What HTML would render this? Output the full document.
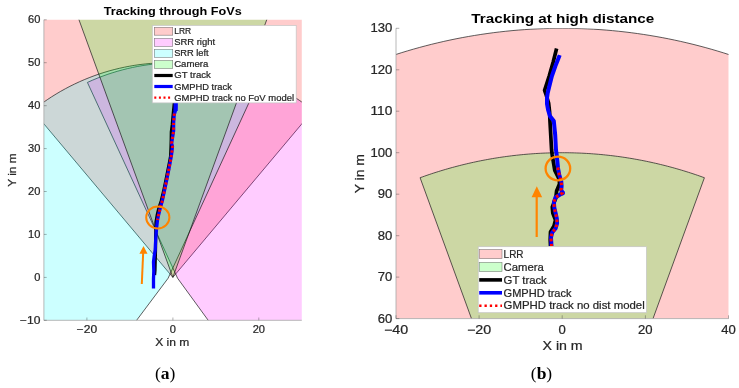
<!DOCTYPE html>
<html><head><meta charset="utf-8"><title>Tracking figure</title>
<style>html,body{margin:0;padding:0;background:#fff;width:739px;height:388px;overflow:hidden}svg{display:block;will-change:transform}</style>
</head><body>
<svg width="739" height="388" viewBox="0 0 739 388">
<clipPath id="cl"><rect x="43.9" y="19.8" width="257.9" height="300.5"/></clipPath>
<g clip-path="url(#cl)">
<polygon points="172.85,277.37 -186.33,-150.14 -181.32,-154.28 -176.27,-158.37 -171.17,-162.39 -166.02,-166.36 -160.83,-170.27 -155.59,-174.12 -150.31,-177.90 -144.99,-181.63 -139.62,-185.29 -134.21,-188.89 -128.75,-192.43 -123.26,-195.90 -117.73,-199.31 -112.15,-202.65 -106.54,-205.93 -100.89,-209.15 -95.21,-212.29 -89.48,-215.38 -83.72,-218.39 -77.93,-221.34 -72.10,-224.22 -66.24,-227.03 -60.35,-229.78 -54.43,-232.45 -48.47,-235.06 -42.49,-237.60 -36.47,-240.06 -30.43,-242.46 -24.36,-244.79 -18.27,-247.04 -12.14,-249.23 -6.00,-251.34 0.18,-253.39 6.37,-255.36 12.59,-257.26 18.83,-259.08 25.09,-260.83 31.37,-262.52 37.67,-264.12 43.99,-265.66 50.32,-267.12 56.67,-268.50 63.04,-269.82 69.42,-271.06 75.82,-272.22 82.23,-273.31 88.65,-274.33 95.08,-275.27 101.53,-276.14 107.98,-276.93 114.44,-277.64 120.91,-278.28 127.39,-278.85 133.87,-279.34 140.36,-279.76 146.85,-280.10 153.35,-280.36 159.85,-280.55 166.35,-280.66 172.85,-280.70 179.35,-280.66 185.85,-280.55 192.35,-280.36 198.85,-280.10 205.34,-279.76 211.83,-279.34 218.31,-278.85 224.79,-278.28 231.26,-277.64 237.72,-276.93 244.17,-276.14 250.62,-275.27 257.05,-274.33 263.47,-273.31 269.88,-272.22 276.28,-271.06 282.66,-269.82 289.03,-268.50 295.38,-267.12 301.71,-265.66 308.03,-264.12 314.33,-262.52 320.61,-260.83 326.87,-259.08 333.11,-257.26 339.33,-255.36 345.52,-253.39 351.70,-251.34 357.84,-249.23 363.97,-247.04 370.06,-244.79 376.13,-242.46 382.17,-240.06 388.19,-237.60 394.17,-235.06 400.13,-232.45 406.05,-229.78 411.94,-227.03 417.80,-224.22 423.63,-221.34 429.42,-218.39 435.18,-215.38 440.91,-212.29 446.59,-209.15 452.24,-205.93 457.85,-202.65 463.43,-199.31 468.96,-195.90 474.45,-192.43 479.91,-188.89 485.32,-185.29 490.69,-181.63 496.01,-177.90 501.29,-174.12 506.53,-170.27 511.72,-166.36 516.87,-162.39 521.97,-158.37 527.02,-154.28 532.03,-150.14" fill="#ff0000" fill-opacity="0.2" stroke="#1a1a1a" stroke-width="0.7" stroke-linejoin="round"/>
<polygon points="177.58,278.23 87.41,82.45 92.25,80.29 97.14,78.26 102.07,76.35 107.06,74.56 112.08,72.90 117.14,71.35 122.24,69.94 127.38,68.64 132.54,67.48 137.73,66.43 142.95,65.52 148.18,64.74 153.44,64.08 158.70,63.55 163.98,63.16 169.27,62.89 174.56,62.75 179.86,62.74 185.15,62.86 190.44,63.11 195.72,63.49 200.99,64.00 206.24,64.64 211.48,65.41 216.70,66.30 221.89,67.32 227.06,68.47 232.20,69.75 237.30,71.15 242.37,72.67 247.40,74.32 252.39,76.10 257.33,77.99 262.23,80.00 267.07,82.14 271.86,84.39 276.60,86.76 281.27,89.24 285.88,91.84 290.43,94.55 294.91,97.37 299.31,100.30 303.65,103.34 307.91,106.48 312.09,109.72 316.19,113.07 320.20,116.52 324.13,120.06 327.97,123.70 331.72,127.43 335.38,131.25 338.94,135.16 342.41,139.16 345.78,143.24 349.04,147.40 352.20,151.64 355.26,155.96 358.21,160.35 361.05,164.81 363.78,169.34 366.40,173.94 368.91,178.59 371.30,183.31 373.57,188.09 375.73,192.92 377.76,197.80 379.68,202.73 381.47,207.70 383.14,212.72 384.69,217.78 386.11,222.87 387.41,228.00 388.58,233.15 389.62,238.34 390.54,243.54 391.33,248.77 391.99,254.02 392.52,259.28 392.92,264.55 393.19,269.83 393.33,275.12 393.34,280.41 393.23,285.69 392.98,290.97 392.60,296.25 392.09,301.51 391.46,306.76 390.69,311.99 389.80,317.20 388.78,322.39 387.63,327.55 386.35,332.68 384.95,337.78 383.43,342.85 381.78,347.87 380.00,352.85 378.11,357.79 376.10,362.68 373.96,367.52 371.71,372.31 369.34,377.03 366.85,381.70 364.26,386.31 361.54,390.85 358.72,395.32 355.79,399.73 352.75,404.06 349.61,408.31 346.36,412.49 343.01,416.58 339.57,420.60 336.02,424.52 332.38,428.36 328.64,432.11 324.82,435.76 320.90,439.32 316.90,442.79 312.82,446.15 308.65,449.41 304.41,452.57" fill="#ff00ff" fill-opacity="0.2" stroke="#1a1a1a" stroke-width="0.7" stroke-linejoin="round"/>
<polygon points="168.12,278.23 38.87,450.79 34.69,447.59 30.59,444.28 26.57,440.88 22.63,437.38 18.79,433.78 15.03,430.09 11.36,426.31 7.79,422.45 4.31,418.49 0.93,414.46 -2.35,410.34 -5.53,406.14 -8.61,401.87 -11.58,397.52 -14.44,393.11 -17.20,388.62 -19.84,384.07 -22.37,379.45 -24.79,374.78 -27.09,370.04 -29.28,365.25 -31.35,360.41 -33.30,355.53 -35.13,350.59 -36.84,345.61 -38.42,340.59 -39.88,335.54 -41.22,330.45 -42.44,325.33 -43.53,320.18 -44.49,315.01 -45.33,309.81 -46.03,304.60 -46.61,299.37 -47.07,294.12 -47.39,288.87 -47.59,283.61 -47.65,278.35 -47.59,273.09 -47.40,267.83 -47.08,262.58 -46.64,257.33 -46.06,252.10 -45.36,246.89 -44.53,241.69 -43.57,236.51 -42.49,231.36 -41.28,226.24 -39.95,221.15 -38.49,216.09 -36.91,211.07 -35.21,206.09 -33.38,201.16 -31.44,196.27 -29.37,191.42 -27.19,186.63 -24.90,181.90 -22.48,177.22 -19.96,172.60 -17.32,168.05 -14.57,163.56 -11.71,159.14 -8.75,154.79 -5.67,150.51 -2.50,146.31 0.78,142.19 4.15,138.15 7.63,134.19 11.20,130.32 14.86,126.54 18.61,122.84 22.46,119.24 26.39,115.74 30.40,112.33 34.50,109.02 38.68,105.81 42.93,102.71 47.26,99.71 51.66,96.81 56.13,94.03 60.67,91.35 65.27,88.79 69.93,86.34 74.65,84.00 79.43,81.78 84.26,79.67 89.14,77.69 94.06,75.82 99.03,74.07 104.05,72.45 109.10,70.95 114.18,69.57 119.30,68.32 124.45,67.19 129.62,66.19 134.81,65.31 140.03,64.56 145.26,63.94 150.51,63.45 155.76,63.08 161.03,62.85 166.30,62.74 171.56,62.76 176.83,62.90 182.09,63.18 187.35,63.59 192.59,64.12 197.82,64.78 203.03,65.57 208.22,66.48 213.38,67.52 218.52,68.69 223.63,69.98 228.70,71.40 233.74,72.93 238.74,74.60 243.70,76.38 248.61,78.28 253.47,80.30 258.29,82.45" fill="#00ffff" fill-opacity="0.2" stroke="#1a1a1a" stroke-width="0.7" stroke-linejoin="round"/>
<polygon points="172.85,277.37 25.84,-126.03 28.19,-126.87 30.55,-127.71 32.91,-128.53 35.28,-129.33 37.65,-130.12 40.02,-130.90 42.40,-131.67 44.79,-132.42 47.18,-133.16 49.57,-133.88 51.97,-134.59 54.37,-135.28 56.78,-135.97 59.19,-136.63 61.60,-137.29 64.02,-137.93 66.44,-138.55 68.86,-139.16 71.29,-139.76 73.72,-140.34 76.16,-140.91 78.60,-141.47 81.04,-142.01 83.48,-142.53 85.93,-143.05 88.38,-143.54 90.83,-144.03 93.29,-144.50 95.75,-144.95 98.21,-145.39 100.67,-145.82 103.14,-146.23 105.61,-146.63 108.08,-147.01 110.55,-147.38 113.03,-147.74 115.51,-148.08 117.99,-148.40 120.47,-148.71 122.95,-149.01 125.43,-149.29 127.92,-149.56 130.41,-149.82 132.90,-150.06 135.39,-150.28 137.88,-150.49 140.37,-150.69 142.87,-150.87 145.36,-151.04 147.86,-151.19 150.35,-151.33 152.85,-151.45 155.35,-151.56 157.85,-151.65 160.35,-151.73 162.85,-151.80 165.35,-151.85 167.85,-151.89 170.35,-151.91 172.85,-151.91 175.35,-151.91 177.85,-151.89 180.35,-151.85 182.85,-151.80 185.35,-151.73 187.85,-151.65 190.35,-151.56 192.85,-151.45 195.35,-151.33 197.84,-151.19 200.34,-151.04 202.83,-150.87 205.33,-150.69 207.82,-150.49 210.31,-150.28 212.80,-150.06 215.29,-149.82 217.78,-149.56 220.27,-149.29 222.75,-149.01 225.23,-148.71 227.71,-148.40 230.19,-148.08 232.67,-147.74 235.15,-147.38 237.62,-147.01 240.09,-146.63 242.56,-146.23 245.03,-145.82 247.49,-145.39 249.95,-144.95 252.41,-144.50 254.87,-144.03 257.32,-143.54 259.77,-143.05 262.22,-142.53 264.66,-142.01 267.10,-141.47 269.54,-140.91 271.98,-140.34 274.41,-139.76 276.84,-139.16 279.26,-138.55 281.68,-137.93 284.10,-137.29 286.51,-136.63 288.92,-135.97 291.33,-135.28 293.73,-134.59 296.13,-133.88 298.52,-133.16 300.91,-132.42 303.30,-131.67 305.68,-130.90 308.05,-130.12 310.42,-129.33 312.79,-128.53 315.15,-127.71 317.51,-126.87 319.86,-126.03" fill="#00ff00" fill-opacity="0.2" stroke="#1a1a1a" stroke-width="0.7" stroke-linejoin="round"/>
<polyline points="174.3,103.0 173.1,115.0 172.2,125.0 171.3,132.0 171.2,139.0 171.0,146.0 170.6,156.0 169.5,162.0 167.5,172.0 165.5,182.0 163.4,192.0 161.2,201.0 158.9,208.0 157.2,215.0 156.0,222.0 155.8,230.0 155.6,238.0 155.6,246.0 155.4,255.0 155.2,262.0 155.0,270.0 154.6,275.0" fill="none" stroke="#000" stroke-width="3.2" stroke-linejoin="round"/>
<polyline points="175.8,100.0 175.6,110.0 174.2,114.7 173.6,123.2 173.6,130.9 172.4,138.6 171.6,143.3 172.5,146.4 171.6,154.1 170.6,160.0 168.7,170.0 166.7,180.0 164.6,190.0 162.5,200.0 160.8,206.0 159.5,211.0 158.3,216.0 157.5,220.0 156.6,228.0 156.0,235.0 155.4,245.0 155.2,250.0 154.2,256.0 153.5,262.0 153.8,271.0 153.5,279.0 153.5,288.5" fill="none" stroke="#0000ff" stroke-width="3.3" stroke-linejoin="round"/>
<polyline points="175.7,101.0 175.6,111.0" fill="none" stroke="#0000ff" stroke-width="4.2"/>
<polyline points="174.3,113.5 174.2,114.7 173.6,123.2 173.6,130.9 172.4,138.6 171.6,143.3 172.5,146.4 171.6,154.1 170.6,160.0 168.7,170.0 166.7,180.0 164.6,190.0 162.5,200.0 160.8,206.0 159.5,211.0 158.3,216.0 157.5,220.0" fill="none" stroke="#ff0000" stroke-width="2.9" stroke-dasharray="2.3 2.35"/>
<ellipse cx="157.8" cy="217.5" rx="11.6" ry="10.9" fill="none" stroke="#ff8400" stroke-width="2"/>
<line x1="141.8" y1="284" x2="143.2" y2="252" stroke="#ff8400" stroke-width="2"/>
<polygon points="143.5,245.9 139.4,253.8 147.5,253.8" fill="#ff8400"/>
</g>
<path d="M43.9,19.8 V320.3 H301.8" fill="none" stroke="#a6a6a6" stroke-width="0.8"/>
<line x1="43.9" y1="320.3" x2="46.7" y2="320.3" stroke="#262626" stroke-opacity="0.6" stroke-width="0.6"/>
<text x="40.40" y="323.84" font-family="Liberation Sans" font-size="10.19" font-weight="normal" text-anchor="end" fill="#262626" stroke="#262626" stroke-width="0.22" textLength="20.47" lengthAdjust="spacingAndGlyphs" >−10</text>
<line x1="43.9" y1="277.4" x2="46.7" y2="277.4" stroke="#262626" stroke-opacity="0.6" stroke-width="0.6"/>
<text x="40.40" y="280.91" font-family="Liberation Sans" font-size="10.19" font-weight="normal" text-anchor="end" fill="#262626" stroke="#262626" stroke-width="0.22" textLength="6.17" lengthAdjust="spacingAndGlyphs" >0</text>
<line x1="43.9" y1="234.4" x2="46.7" y2="234.4" stroke="#262626" stroke-opacity="0.6" stroke-width="0.6"/>
<text x="40.40" y="237.98" font-family="Liberation Sans" font-size="10.19" font-weight="normal" text-anchor="end" fill="#262626" stroke="#262626" stroke-width="0.22" textLength="12.34" lengthAdjust="spacingAndGlyphs" >10</text>
<line x1="43.9" y1="191.5" x2="46.7" y2="191.5" stroke="#262626" stroke-opacity="0.6" stroke-width="0.6"/>
<text x="40.40" y="195.05" font-family="Liberation Sans" font-size="10.19" font-weight="normal" text-anchor="end" fill="#262626" stroke="#262626" stroke-width="0.22" textLength="12.34" lengthAdjust="spacingAndGlyphs" >20</text>
<line x1="43.9" y1="148.6" x2="46.7" y2="148.6" stroke="#262626" stroke-opacity="0.6" stroke-width="0.6"/>
<text x="40.40" y="152.13" font-family="Liberation Sans" font-size="10.19" font-weight="normal" text-anchor="end" fill="#262626" stroke="#262626" stroke-width="0.22" textLength="12.34" lengthAdjust="spacingAndGlyphs" >30</text>
<line x1="43.9" y1="105.7" x2="46.7" y2="105.7" stroke="#262626" stroke-opacity="0.6" stroke-width="0.6"/>
<text x="40.40" y="109.20" font-family="Liberation Sans" font-size="10.19" font-weight="normal" text-anchor="end" fill="#262626" stroke="#262626" stroke-width="0.22" textLength="12.34" lengthAdjust="spacingAndGlyphs" >40</text>
<line x1="43.9" y1="62.7" x2="46.7" y2="62.7" stroke="#262626" stroke-opacity="0.6" stroke-width="0.6"/>
<text x="40.40" y="66.27" font-family="Liberation Sans" font-size="10.19" font-weight="normal" text-anchor="end" fill="#262626" stroke="#262626" stroke-width="0.22" textLength="12.34" lengthAdjust="spacingAndGlyphs" >50</text>
<line x1="43.9" y1="19.8" x2="46.7" y2="19.8" stroke="#262626" stroke-opacity="0.6" stroke-width="0.6"/>
<text x="40.40" y="23.34" font-family="Liberation Sans" font-size="10.19" font-weight="normal" text-anchor="end" fill="#262626" stroke="#262626" stroke-width="0.22" textLength="12.34" lengthAdjust="spacingAndGlyphs" >60</text>
<line x1="86.9" y1="320.3" x2="86.9" y2="317.5" stroke="#262626" stroke-opacity="0.6" stroke-width="0.6"/>
<text x="86.88" y="332.90" font-family="Liberation Sans" font-size="10.19" font-weight="normal" text-anchor="middle" fill="#262626" stroke="#262626" stroke-width="0.22" textLength="20.47" lengthAdjust="spacingAndGlyphs" >−20</text>
<line x1="172.9" y1="320.3" x2="172.9" y2="317.5" stroke="#262626" stroke-opacity="0.6" stroke-width="0.6"/>
<text x="172.85" y="332.90" font-family="Liberation Sans" font-size="10.19" font-weight="normal" text-anchor="middle" fill="#262626" stroke="#262626" stroke-width="0.22" textLength="6.17" lengthAdjust="spacingAndGlyphs" >0</text>
<line x1="258.8" y1="320.3" x2="258.8" y2="317.5" stroke="#262626" stroke-opacity="0.6" stroke-width="0.6"/>
<text x="258.82" y="332.90" font-family="Liberation Sans" font-size="10.19" font-weight="normal" text-anchor="middle" fill="#262626" stroke="#262626" stroke-width="0.22" textLength="12.34" lengthAdjust="spacingAndGlyphs" >20</text>
<text x="172.30" y="346.40" font-family="Liberation Sans" font-size="11.20" font-weight="normal" text-anchor="middle" fill="#262626" stroke="#262626" stroke-width="0.22" textLength="34.21" lengthAdjust="spacingAndGlyphs" >X in m</text>
<text x="0.00" y="0.00" font-family="Liberation Sans" font-size="11.20" font-weight="normal" text-anchor="middle" fill="#262626" stroke="#262626" stroke-width="0.22" textLength="33.42" lengthAdjust="spacingAndGlyphs" transform="translate(15.5,170.1) rotate(-90)">Y in m</text>
<text x="172.75" y="14.90" font-family="Liberation Sans" font-size="11.45" font-weight="bold" text-anchor="middle" fill="#000" textLength="138.14" lengthAdjust="spacingAndGlyphs" >Tracking through FoVs</text>
<rect x="152.3" y="25.4" width="143.9" height="77.5" fill="#fff" stroke="#c4c4c4" stroke-width="0.7"/>
<rect x="154.3" y="27.4" width="18.4" height="7.8" fill="#ff0000" fill-opacity="0.2" stroke="#1a1a1a" stroke-opacity="0.55" stroke-width="0.6"/>
<text x="174.20" y="34.25" font-family="Liberation Sans" font-size="9.13" font-weight="normal" text-anchor="start" fill="#262626" stroke="#262626" stroke-width="0.22" textLength="16.94" lengthAdjust="spacingAndGlyphs" >LRR</text>
<rect x="154.3" y="38.5" width="18.4" height="7.8" fill="#ff00ff" fill-opacity="0.2" stroke="#1a1a1a" stroke-opacity="0.55" stroke-width="0.6"/>
<text x="174.20" y="45.30" font-family="Liberation Sans" font-size="9.13" font-weight="normal" text-anchor="start" fill="#262626" stroke="#262626" stroke-width="0.22" textLength="40.82" lengthAdjust="spacingAndGlyphs" >SRR right</text>
<rect x="154.3" y="49.5" width="18.4" height="7.8" fill="#00ffff" fill-opacity="0.2" stroke="#1a1a1a" stroke-opacity="0.55" stroke-width="0.6"/>
<text x="174.20" y="56.35" font-family="Liberation Sans" font-size="9.13" font-weight="normal" text-anchor="start" fill="#262626" stroke="#262626" stroke-width="0.22" textLength="34.47" lengthAdjust="spacingAndGlyphs" >SRR left</text>
<rect x="154.3" y="60.6" width="18.4" height="7.8" fill="#00ff00" fill-opacity="0.2" stroke="#1a1a1a" stroke-opacity="0.55" stroke-width="0.6"/>
<text x="174.20" y="67.40" font-family="Liberation Sans" font-size="9.13" font-weight="normal" text-anchor="start" fill="#262626" stroke="#262626" stroke-width="0.22" textLength="34.14" lengthAdjust="spacingAndGlyphs" >Camera</text>
<line x1="154.3" y1="75.5" x2="172.7" y2="75.5" stroke="#000" stroke-width="3.2"/>
<text x="174.20" y="78.45" font-family="Liberation Sans" font-size="9.13" font-weight="normal" text-anchor="start" fill="#262626" stroke="#262626" stroke-width="0.22" textLength="36.65" lengthAdjust="spacingAndGlyphs" >GT track</text>
<line x1="154.3" y1="86.5" x2="172.7" y2="86.5" stroke="#0000ff" stroke-width="3.2"/>
<text x="174.20" y="89.50" font-family="Liberation Sans" font-size="9.13" font-weight="normal" text-anchor="start" fill="#262626" stroke="#262626" stroke-width="0.22" textLength="57.64" lengthAdjust="spacingAndGlyphs" >GMPHD track</text>
<line x1="154.3" y1="97.6" x2="172.7" y2="97.6" stroke="#ff0000" stroke-width="2.2" stroke-dasharray="2 2.6"/>
<text x="174.20" y="100.55" font-family="Liberation Sans" font-size="9.13" font-weight="normal" text-anchor="start" fill="#262626" stroke="#262626" stroke-width="0.22" textLength="119.84" lengthAdjust="spacingAndGlyphs" >GMPHD track no FoV model</text>
<clipPath id="cr"><rect x="396.0" y="28.3" width="332.5" height="290.3"/></clipPath>
<g clip-path="url(#cr)">
<polygon points="562.25,567.43 214.94,154.43 219.78,150.43 224.67,146.48 229.60,142.59 234.58,138.76 239.60,134.98 244.66,131.26 249.77,127.61 254.92,124.01 260.11,120.47 265.34,116.99 270.62,113.58 275.93,110.22 281.28,106.93 286.67,103.70 292.09,100.53 297.56,97.42 303.06,94.38 308.59,91.41 314.16,88.49 319.76,85.65 325.39,82.86 331.06,80.15 336.76,77.49 342.49,74.91 348.24,72.39 354.03,69.94 359.85,67.56 365.69,65.24 371.56,62.99 377.45,60.81 383.37,58.70 389.32,56.66 395.28,54.69 401.27,52.78 407.29,50.95 413.32,49.18 419.37,47.49 425.45,45.87 431.54,44.31 437.65,42.83 443.77,41.42 449.91,40.08 456.07,38.81 462.24,37.62 468.43,36.49 474.62,35.44 480.83,34.46 487.05,33.55 493.28,32.71 499.52,31.95 505.77,31.25 512.03,30.63 518.29,30.09 524.56,29.61 530.83,29.21 537.11,28.88 543.39,28.63 549.68,28.45 555.96,28.34 562.25,28.30 568.54,28.34 574.82,28.45 581.11,28.63 587.39,28.88 593.67,29.21 599.94,29.61 606.21,30.09 612.47,30.63 618.73,31.25 624.98,31.95 631.22,32.71 637.45,33.55 643.67,34.46 649.88,35.44 656.07,36.49 662.26,37.62 668.43,38.81 674.59,40.08 680.73,41.42 686.85,42.83 692.96,44.31 699.05,45.87 705.13,47.49 711.18,49.18 717.21,50.95 723.23,52.78 729.22,54.69 735.18,56.66 741.13,58.70 747.05,60.81 752.94,62.99 758.81,65.24 764.65,67.56 770.47,69.94 776.26,72.39 782.01,74.91 787.74,77.49 793.44,80.15 799.11,82.86 804.74,85.65 810.34,88.49 815.91,91.41 821.44,94.38 826.94,97.42 832.41,100.53 837.83,103.70 843.22,106.93 848.57,110.22 853.88,113.58 859.16,116.99 864.39,120.47 869.58,124.01 874.73,127.61 879.84,131.26 884.90,134.98 889.92,138.76 894.90,142.59 899.83,146.48 904.72,150.43 909.56,154.43" fill="#ff0000" fill-opacity="0.2" stroke="#1a1a1a" stroke-width="0.7" stroke-linejoin="round"/>
<polygon points="566.82,568.26 479.64,379.12 484.31,377.04 489.04,375.08 493.81,373.23 498.63,371.50 503.49,369.89 508.38,368.40 513.32,367.03 518.28,365.78 523.27,364.66 528.29,363.65 533.33,362.77 538.40,362.01 543.48,361.38 548.57,360.87 553.68,360.49 558.79,360.23 563.91,360.09 569.02,360.08 574.14,360.20 579.26,360.44 584.36,360.81 589.46,361.30 594.54,361.92 599.60,362.66 604.65,363.52 609.67,364.51 614.67,365.62 619.64,366.85 624.57,368.21 629.48,369.68 634.34,371.27 639.16,372.99 643.94,374.82 648.67,376.76 653.36,378.82 657.99,381.00 662.57,383.29 667.09,385.69 671.55,388.20 675.94,390.81 680.27,393.54 684.53,396.37 688.72,399.30 692.84,402.34 696.88,405.47 700.85,408.70 704.73,412.03 708.53,415.46 712.24,418.97 715.87,422.58 719.41,426.27 722.85,430.05 726.20,433.91 729.46,437.85 732.62,441.87 735.68,445.97 738.63,450.14 741.48,454.38 744.23,458.69 746.87,463.07 749.40,467.50 751.83,472.00 754.14,476.56 756.34,481.18 758.42,485.84 760.39,490.56 762.24,495.32 763.98,500.12 765.59,504.97 767.09,509.86 768.46,514.78 769.72,519.73 770.85,524.71 771.86,529.72 772.75,534.75 773.51,539.80 774.14,544.87 774.66,549.95 775.04,555.04 775.31,560.15 775.44,565.25 775.45,570.36 775.34,575.47 775.10,580.57 774.74,585.66 774.24,590.75 773.63,595.82 772.89,600.87 772.03,605.91 771.04,610.92 769.93,615.91 768.69,620.86 767.34,625.79 765.87,630.68 764.27,635.54 762.56,640.35 760.73,645.12 758.78,649.84 756.71,654.52 754.54,659.14 752.24,663.71 749.84,668.22 747.33,672.67 744.71,677.06 741.98,681.38 739.14,685.63 736.21,689.81 733.17,693.92 730.03,697.96 726.79,701.92 723.45,705.79 720.03,709.58 716.50,713.29 712.89,716.91 709.19,720.44 705.41,723.88 701.54,727.23 697.59,730.48 693.56,733.63 689.46,736.68" fill="#ff00ff" fill-opacity="0.2" stroke="#1a1a1a" stroke-width="0.7" stroke-linejoin="round"/>
<polygon points="557.68,568.26 432.70,734.96 428.65,731.86 424.69,728.67 420.80,725.38 417.00,722.00 413.28,718.53 409.64,714.97 406.10,711.32 402.64,707.58 399.28,703.76 396.01,699.86 392.84,695.88 389.76,691.83 386.79,687.70 383.92,683.50 381.15,679.23 378.49,674.90 375.93,670.50 373.48,666.04 371.14,661.53 368.92,656.95 366.80,652.33 364.80,647.65 362.92,642.93 361.15,638.16 359.50,633.35 357.96,628.51 356.55,623.62 355.25,618.71 354.08,613.76 353.03,608.78 352.09,603.79 351.29,598.77 350.60,593.73 350.04,588.68 349.60,583.61 349.29,578.54 349.10,573.46 349.03,568.37 349.09,563.29 349.28,558.21 349.59,553.13 350.02,548.07 350.57,543.02 351.25,537.98 352.06,532.96 352.98,527.96 354.03,522.98 355.20,518.03 356.49,513.12 357.90,508.23 359.42,503.38 361.07,498.57 362.83,493.80 364.71,489.08 366.71,484.40 368.82,479.77 371.04,475.19 373.37,470.68 375.82,466.21 378.37,461.81 381.03,457.48 383.79,453.21 386.66,449.00 389.63,444.87 392.70,440.81 395.86,436.83 399.13,432.93 402.49,429.11 405.94,425.37 409.48,421.71 413.11,418.15 416.83,414.67 420.63,411.28 424.51,407.99 428.47,404.79 432.51,401.69 436.62,398.69 440.81,395.80 445.07,393.00 449.39,390.31 453.77,387.72 458.22,385.25 462.73,382.88 467.30,380.62 471.92,378.47 476.58,376.44 481.30,374.52 486.07,372.72 490.87,371.03 495.72,369.46 500.60,368.01 505.52,366.68 510.47,365.47 515.45,364.38 520.45,363.41 525.47,362.57 530.51,361.84 535.57,361.24 540.65,360.77 545.73,360.41 550.82,360.18 555.91,360.08 561.01,360.10 566.10,360.24 571.19,360.51 576.27,360.90 581.34,361.41 586.39,362.05 591.43,362.81 596.45,363.70 601.44,364.70 606.41,365.83 611.35,367.08 616.25,368.44 621.13,369.93 625.96,371.54 630.76,373.26 635.51,375.10 640.21,377.05 644.86,379.12" fill="#00ffff" fill-opacity="0.2" stroke="#1a1a1a" stroke-width="0.7" stroke-linejoin="round"/>
<polygon points="562.25,567.43 420.10,177.72 422.37,176.91 424.65,176.10 426.94,175.31 429.22,174.53 431.52,173.76 433.81,173.01 436.12,172.27 438.42,171.55 440.73,170.84 443.05,170.14 445.37,169.45 447.69,168.78 450.01,168.12 452.34,167.48 454.68,166.85 457.02,166.23 459.36,165.62 461.70,165.03 464.05,164.46 466.40,163.89 468.75,163.34 471.11,162.81 473.47,162.29 475.84,161.78 478.20,161.28 480.57,160.80 482.95,160.33 485.32,159.88 487.70,159.44 490.08,159.01 492.46,158.60 494.84,158.20 497.23,157.82 499.62,157.45 502.01,157.09 504.41,156.75 506.80,156.42 509.20,156.11 511.60,155.81 514.00,155.52 516.40,155.25 518.81,154.99 521.21,154.74 523.62,154.51 526.03,154.29 528.44,154.09 530.85,153.90 533.26,153.72 535.67,153.56 538.08,153.42 540.50,153.28 542.91,153.16 545.33,153.06 547.74,152.97 550.16,152.89 552.58,152.83 555.00,152.78 557.41,152.74 559.83,152.72 562.25,152.71 564.67,152.72 567.09,152.74 569.50,152.78 571.92,152.83 574.34,152.89 576.76,152.97 579.17,153.06 581.59,153.16 584.00,153.28 586.42,153.42 588.83,153.56 591.24,153.72 593.65,153.90 596.06,154.09 598.47,154.29 600.88,154.51 603.29,154.74 605.69,154.99 608.10,155.25 610.50,155.52 612.90,155.81 615.30,156.11 617.70,156.42 620.09,156.75 622.49,157.09 624.88,157.45 627.27,157.82 629.66,158.20 632.04,158.60 634.42,159.01 636.80,159.44 639.18,159.88 641.55,160.33 643.93,160.80 646.30,161.28 648.66,161.78 651.03,162.29 653.39,162.81 655.75,163.34 658.10,163.89 660.45,164.46 662.80,165.03 665.14,165.62 667.48,166.23 669.82,166.85 672.16,167.48 674.49,168.12 676.81,168.78 679.13,169.45 681.45,170.14 683.77,170.84 686.08,171.55 688.38,172.27 690.69,173.01 692.98,173.76 695.28,174.53 697.56,175.31 699.85,176.10 702.13,176.91 704.40,177.72" fill="#00ff00" fill-opacity="0.2" stroke="#1a1a1a" stroke-width="0.7" stroke-linejoin="round"/>
<polyline points="556.6,48.5 553.2,62.0 549.2,76.0 546.3,85.0 544.6,90.3 546.2,95.0 548.6,103.0 549.6,112.0 549.9,120.0 551.6,150.0 552.2,155.0 554.8,170.4 559.3,179.5 559.5,184.0 556.6,191.0 555.8,198.0 552.3,207.0 552.8,213.0 555.5,220.0 554.0,226.0 550.5,232.0 550.2,240.0 550.5,246.0" fill="none" stroke="#000" stroke-width="3.7" stroke-linejoin="round"/>
<polyline points="559.7,55.1 557.6,60.5 555.4,66.0 551.9,76.0 549.4,86.0 547.7,93.0 547.0,98.0 547.0,104.0 548.1,110.0 549.9,116.0 553.8,121.0 555.2,135.0 556.0,150.0 556.7,155.0 558.0,168.0 559.3,175.0 561.2,181.0 561.6,186.0 561.2,190.0 562.5,193.0 558.5,195.5 555.4,197.5 553.9,202.1 554.3,207.7 555.7,213.4 556.8,218.4 557.1,223.3 555.7,228.3 552.2,232.5 551.0,237.5 551.5,246.0" fill="none" stroke="#0000ff" stroke-width="4.0" stroke-linejoin="round"/>
<circle cx="562.3" cy="192.8" r="2.6" fill="#0000ff"/>
<polyline points="557.8,167.5 559.3,175.0 561.2,181.0 561.6,186.0 561.2,190.0 562.5,193.0 558.5,195.5 555.4,197.5 553.9,202.1 554.3,207.7 555.7,213.4 556.8,218.4 557.1,223.3 555.7,228.3 552.2,232.5 551.0,237.5 551.5,246.0" fill="none" stroke="#ff0000" stroke-width="3.0" stroke-dasharray="2.6 2.6"/>
<ellipse cx="557.9" cy="168.5" rx="12.3" ry="11.8" fill="none" stroke="#ff8400" stroke-width="2.3"/>
<line x1="536.7" y1="237" x2="536.7" y2="195" stroke="#ff8400" stroke-width="2.2"/>
<polygon points="536.8,186.3 531.6,197.2 542.2,197.2" fill="#ff8400"/>
</g>
<path d="M396.0,28.3 V318.6 H728.5" fill="none" stroke="#a6a6a6" stroke-width="0.8"/>
<line x1="396.0" y1="318.6" x2="399.3" y2="318.6" stroke="#262626" stroke-opacity="0.6" stroke-width="0.6"/>
<text x="392.30" y="322.77" font-family="Liberation Sans" font-size="12.02" font-weight="normal" text-anchor="end" fill="#262626" stroke="#262626" stroke-width="0.22" textLength="14.57" lengthAdjust="spacingAndGlyphs" >60</text>
<line x1="396.0" y1="277.1" x2="399.3" y2="277.1" stroke="#262626" stroke-opacity="0.6" stroke-width="0.6"/>
<text x="392.30" y="281.30" font-family="Liberation Sans" font-size="12.02" font-weight="normal" text-anchor="end" fill="#262626" stroke="#262626" stroke-width="0.22" textLength="14.57" lengthAdjust="spacingAndGlyphs" >70</text>
<line x1="396.0" y1="235.7" x2="399.3" y2="235.7" stroke="#262626" stroke-opacity="0.6" stroke-width="0.6"/>
<text x="392.30" y="239.83" font-family="Liberation Sans" font-size="12.02" font-weight="normal" text-anchor="end" fill="#262626" stroke="#262626" stroke-width="0.22" textLength="14.57" lengthAdjust="spacingAndGlyphs" >80</text>
<line x1="396.0" y1="194.2" x2="399.3" y2="194.2" stroke="#262626" stroke-opacity="0.6" stroke-width="0.6"/>
<text x="392.30" y="198.36" font-family="Liberation Sans" font-size="12.02" font-weight="normal" text-anchor="end" fill="#262626" stroke="#262626" stroke-width="0.22" textLength="14.57" lengthAdjust="spacingAndGlyphs" >90</text>
<line x1="396.0" y1="152.7" x2="399.3" y2="152.7" stroke="#262626" stroke-opacity="0.6" stroke-width="0.6"/>
<text x="392.30" y="156.88" font-family="Liberation Sans" font-size="12.02" font-weight="normal" text-anchor="end" fill="#262626" stroke="#262626" stroke-width="0.22" textLength="21.86" lengthAdjust="spacingAndGlyphs" >100</text>
<line x1="396.0" y1="111.2" x2="399.3" y2="111.2" stroke="#262626" stroke-opacity="0.6" stroke-width="0.6"/>
<text x="392.30" y="115.41" font-family="Liberation Sans" font-size="12.02" font-weight="normal" text-anchor="end" fill="#262626" stroke="#262626" stroke-width="0.22" textLength="21.86" lengthAdjust="spacingAndGlyphs" >110</text>
<line x1="396.0" y1="69.8" x2="399.3" y2="69.8" stroke="#262626" stroke-opacity="0.6" stroke-width="0.6"/>
<text x="392.30" y="73.94" font-family="Liberation Sans" font-size="12.02" font-weight="normal" text-anchor="end" fill="#262626" stroke="#262626" stroke-width="0.22" textLength="21.86" lengthAdjust="spacingAndGlyphs" >120</text>
<line x1="396.0" y1="28.3" x2="399.3" y2="28.3" stroke="#262626" stroke-opacity="0.6" stroke-width="0.6"/>
<text x="392.30" y="32.47" font-family="Liberation Sans" font-size="12.02" font-weight="normal" text-anchor="end" fill="#262626" stroke="#262626" stroke-width="0.22" textLength="21.86" lengthAdjust="spacingAndGlyphs" >130</text>
<line x1="396.0" y1="318.6" x2="396.0" y2="315.3" stroke="#262626" stroke-opacity="0.6" stroke-width="0.6"/>
<text x="396.00" y="334.00" font-family="Liberation Sans" font-size="12.02" font-weight="normal" text-anchor="middle" fill="#262626" stroke="#262626" stroke-width="0.22" textLength="24.16" lengthAdjust="spacingAndGlyphs" >−40</text>
<line x1="479.1" y1="318.6" x2="479.1" y2="315.3" stroke="#262626" stroke-opacity="0.6" stroke-width="0.6"/>
<text x="479.12" y="334.00" font-family="Liberation Sans" font-size="12.02" font-weight="normal" text-anchor="middle" fill="#262626" stroke="#262626" stroke-width="0.22" textLength="24.16" lengthAdjust="spacingAndGlyphs" >−20</text>
<line x1="562.2" y1="318.6" x2="562.2" y2="315.3" stroke="#262626" stroke-opacity="0.6" stroke-width="0.6"/>
<text x="562.25" y="334.00" font-family="Liberation Sans" font-size="12.02" font-weight="normal" text-anchor="middle" fill="#262626" stroke="#262626" stroke-width="0.22" textLength="7.29" lengthAdjust="spacingAndGlyphs" >0</text>
<line x1="645.4" y1="318.6" x2="645.4" y2="315.3" stroke="#262626" stroke-opacity="0.6" stroke-width="0.6"/>
<text x="645.38" y="334.00" font-family="Liberation Sans" font-size="12.02" font-weight="normal" text-anchor="middle" fill="#262626" stroke="#262626" stroke-width="0.22" textLength="14.57" lengthAdjust="spacingAndGlyphs" >20</text>
<line x1="728.5" y1="318.6" x2="728.5" y2="315.3" stroke="#262626" stroke-opacity="0.6" stroke-width="0.6"/>
<text x="728.50" y="334.00" font-family="Liberation Sans" font-size="12.02" font-weight="normal" text-anchor="middle" fill="#262626" stroke="#262626" stroke-width="0.22" textLength="14.57" lengthAdjust="spacingAndGlyphs" >40</text>
<text x="562.60" y="349.80" font-family="Liberation Sans" font-size="13.18" font-weight="normal" text-anchor="middle" fill="#262626" stroke="#262626" stroke-width="0.22" textLength="40.24" lengthAdjust="spacingAndGlyphs" >X in m</text>
<text x="0.00" y="0.00" font-family="Liberation Sans" font-size="13.18" font-weight="normal" text-anchor="middle" fill="#262626" stroke="#262626" stroke-width="0.22" textLength="39.31" lengthAdjust="spacingAndGlyphs" transform="translate(364.3,173.7) rotate(-90)">Y in m</text>
<text x="562.85" y="22.50" font-family="Liberation Sans" font-size="13.49" font-weight="bold" text-anchor="middle" fill="#000" textLength="182.96" lengthAdjust="spacingAndGlyphs" >Tracking at high distance</text>
<rect x="478.2" y="246.7" width="168.3" height="66.0" fill="#fff" stroke="#c4c4c4" stroke-width="0.7"/>
<rect x="479.2" y="249.6" width="22.8" height="9" fill="#ff0000" fill-opacity="0.2" stroke="#1a1a1a" stroke-opacity="0.55" stroke-width="0.6"/>
<text x="503.60" y="257.80" font-family="Liberation Sans" font-size="10.76" font-weight="normal" text-anchor="start" fill="#262626" stroke="#262626" stroke-width="0.22" textLength="19.95" lengthAdjust="spacingAndGlyphs" >LRR</text>
<rect x="479.2" y="262.5" width="22.8" height="9" fill="#00ff00" fill-opacity="0.2" stroke="#1a1a1a" stroke-opacity="0.55" stroke-width="0.6"/>
<text x="503.60" y="270.70" font-family="Liberation Sans" font-size="10.76" font-weight="normal" text-anchor="start" fill="#262626" stroke="#262626" stroke-width="0.22" textLength="40.23" lengthAdjust="spacingAndGlyphs" >Camera</text>
<line x1="479.2" y1="279.9" x2="502" y2="279.9" stroke="#000" stroke-width="3.6"/>
<text x="503.60" y="283.60" font-family="Liberation Sans" font-size="10.76" font-weight="normal" text-anchor="start" fill="#262626" stroke="#262626" stroke-width="0.22" textLength="43.18" lengthAdjust="spacingAndGlyphs" >GT track</text>
<line x1="479.2" y1="292.8" x2="502" y2="292.8" stroke="#0000ff" stroke-width="3.6"/>
<text x="503.60" y="296.50" font-family="Liberation Sans" font-size="10.76" font-weight="normal" text-anchor="start" fill="#262626" stroke="#262626" stroke-width="0.22" textLength="67.91" lengthAdjust="spacingAndGlyphs" >GMPHD track</text>
<line x1="479.2" y1="305.7" x2="502" y2="305.7" stroke="#ff0000" stroke-width="2.4" stroke-dasharray="2.3 3"/>
<text x="503.60" y="309.40" font-family="Liberation Sans" font-size="10.76" font-weight="normal" text-anchor="start" fill="#262626" stroke="#262626" stroke-width="0.22" textLength="141.09" lengthAdjust="spacingAndGlyphs" >GMPHD track no dist model</text>
<text x="165.2" y="379" font-family="Liberation Serif" font-size="17.5" text-anchor="middle" fill="#000">(<tspan font-weight="bold">a</tspan>)</text>
<text x="541.5" y="379" font-family="Liberation Serif" font-size="17.5" text-anchor="middle" fill="#000">(<tspan font-weight="bold">b</tspan>)</text>
</svg>
</body></html>
